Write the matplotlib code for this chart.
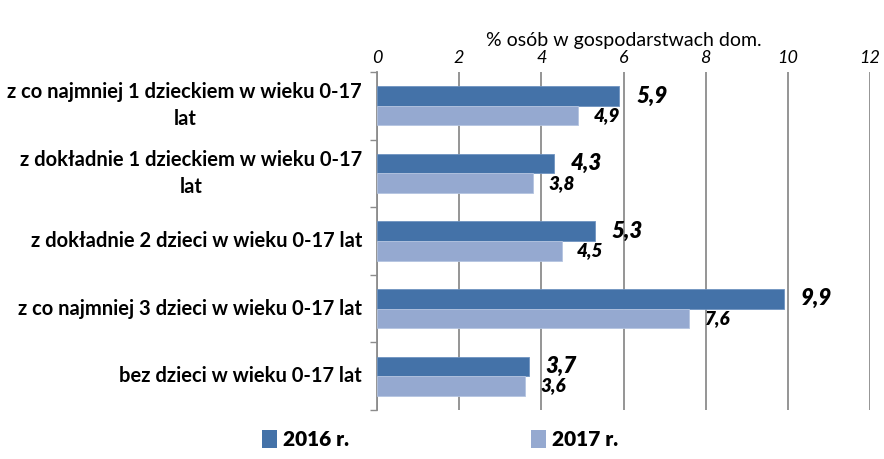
import matplotlib
matplotlib.use("Agg")
import matplotlib.pyplot as plt
import numpy as np
from matplotlib.patches import Patch

categories = [
    "z co najmniej 1 dzieckiem w wieku 0-17\nlat",
    "z dokładnie 1 dzieckiem w wieku 0-17\nlat",
    "z dokładnie 2 dzieci w wieku 0-17 lat",
    "z co najmniej 3 dzieci w wieku 0-17 lat",
    "bez dzieci w wieku 0-17 lat",
]
v2016 = [5.9, 4.3, 5.3, 9.9, 3.7]
v2017 = [4.9, 3.8, 4.5, 7.6, 3.6]
series_names = ["2016 r.", "2017 r."]
xticks = [0, 2, 4, 6, 8, 10, 12]
axis_title = "% osób w gospodarstwach dom."

plt.rcParams['font.family'] = ['Lato', 'DejaVu Sans']

c16 = "#4472A8"
c17 = "#95A9D0"
grid_c = "#8C8C8C"

fig = plt.figure(figsize=(8.84, 4.59), dpi=100)
ax = fig.add_axes([377/884, 1-410/459, (870-377)/884, (410-72)/459])

y = np.arange(len(categories))
h = 0.29
ax.barh(y - h/2, v2016, height=h, color=c16, edgecolor="#6F93C0", linewidth=0.6, zorder=3)
ax.barh(y + h/2, v2017, height=h, color=c17, edgecolor="#B4C4E0", linewidth=0.6, zorder=3)

for i, (a, b) in enumerate(zip(v2016, v2017)):
    ax.annotate(f"{a:.1f}".replace(".", ","), (a, i - h/2), xytext=(12, 0),
                textcoords="offset points", ha="left", va="center",
                fontsize=16, fontweight="heavy", fontstyle="italic")
    ax.annotate(f"{b:.1f}".replace(".", ","), (b, i + h/2), xytext=(11, 0),
                textcoords="offset points", ha="left", va="center",
                fontsize=13.5, fontweight="heavy", fontstyle="italic")

ax.set_xlim(0, 12)
ax.set_ylim(len(categories) - 0.5, -0.5)
ax.set_xticks(xticks)
ax.set_xticklabels([str(t) for t in xticks], fontstyle="italic", fontsize=13)
ax.xaxis.tick_top()
ax.xaxis.set_label_position("top")
ax.set_xlabel(axis_title, fontsize=14, labelpad=3)
ax.tick_params(axis="x", length=0, pad=4)

ax.set_yticks(np.arange(-0.5, len(categories), 1.0))
ax.set_yticklabels([])
ax.tick_params(axis="y", length=5, width=1, color=grid_c, direction="out")
for i, c in enumerate(categories):
    ax.text(-15/41.1, i, c, ha="right", va="center", multialignment="center",
            fontsize=14.5, fontweight="bold", transform=ax.transData, clip_on=False,
            linespacing=1.45)

ax.grid(axis="x", color=grid_c, linewidth=1.3, zorder=0)
for s in ["top", "right", "bottom"]:
    ax.spines[s].set_visible(False)
ax.spines["left"].set_color(grid_c)
ax.spines["left"].set_linewidth(1.3)

handles = [Patch(facecolor=c16), Patch(facecolor=c17)]
leg = fig.legend(handles, series_names, loc="center", bbox_to_anchor=(0.498, 0.042), ncol=2,
                 frameon=False, handlelength=0.7, handleheight=0.9, handletextpad=0.3,
                 columnspacing=8.75, fontsize=15)
for t in leg.get_texts():
    t.set_fontweight("heavy")

fig.savefig("out.png", dpi=100)
